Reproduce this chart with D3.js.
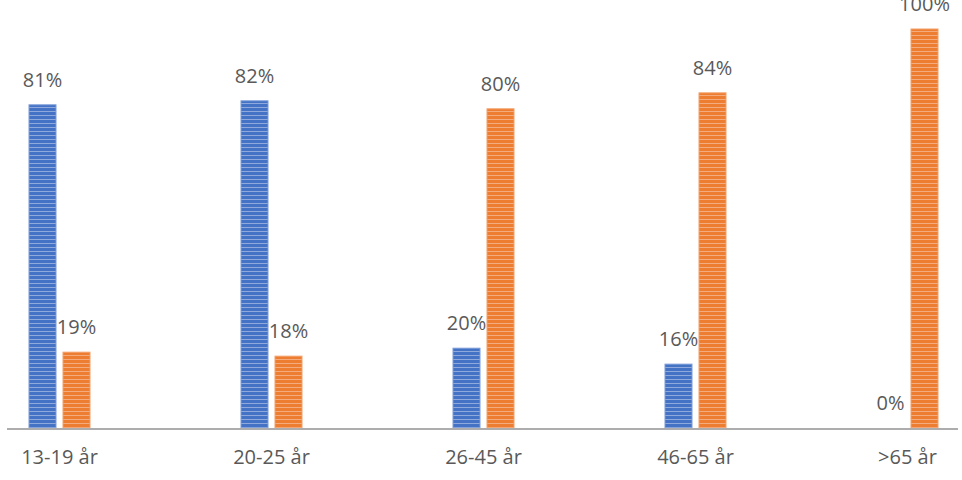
<!DOCTYPE html>
<html>
<head>
<meta charset="utf-8">
<script src="https://cdn.jsdelivr.net/npm/d3@7"></script>
<style>
  html, body { margin: 0; padding: 0; background: #ffffff; }
  svg { display: block; }
  text { font-family: "Open Sans", "Noto Sans", sans-serif; fill: #595959; }
</style>
</head>
<body>
<svg id="chart" width="962" height="480"></svg>
<script>
const categories = ["13-19 år", "20-25 år", "26-45 år", "46-65 år", ">65 år"];
const seriesNames = ["Serie 1", "Serie 2"];
const series1 = [0.81, 0.82, 0.20, 0.16, 0.00];
const series2 = [0.19, 0.18, 0.80, 0.84, 1.00];
const valueLabels1 = ["81%", "82%", "20%", "16%", "0%"];
const valueLabels2 = ["19%", "18%", "80%", "84%", "100%"];

const W = 962, H = 480;
const svg = d3.select("#chart");

const defs = svg.append("defs");
function stripe(id, base, light) {
  const p = defs.append("pattern").attr("id", id).attr("patternUnits", "userSpaceOnUse")
    .attr("width", 8).attr("height", 4);
  p.append("rect").attr("width", 8).attr("height", 4).attr("fill", base);
  p.append("rect").attr("y", 3).attr("width", 8).attr("height", 1).attr("fill", light);
}
stripe("pBlue", "#4472C4", "#8FA9DD");
stripe("pOrange", "#ED7D31", "#F4AB7D");

const x0 = d3.scaleBand().domain(categories).range([-46.5, 1013.5]).padding(0);
const x1 = d3.scaleBand().domain(seriesNames)
  .range([(x0.bandwidth() - 61) / 2, (x0.bandwidth() + 61) / 2])
  .paddingInner(7 / 34).paddingOuter(0);
const y = d3.scaleLinear().domain([0, 1]).range([428, 29]);

const data = categories.map((c, i) => ({
  cat: c,
  vals: [
    { s: seriesNames[0], v: series1[i], lab: valueLabels1[i], fill: "url(#pBlue)", stroke: "#7A9BD8" },
    { s: seriesNames[1], v: series2[i], lab: valueLabels2[i], fill: "url(#pOrange)", stroke: "#F3A06A" }
  ]
}));

const g = svg.append("g");
const groups = g.selectAll("g.cat").data(data).join("g")
  .attr("class", "cat")
  .attr("transform", d => `translate(${x0(d.cat)},0)`);

groups.selectAll("rect").data(d => d.vals.filter(v => v.v > 0)).join("rect")
  .attr("x", d => x1(d.s))
  .attr("width", x1.bandwidth())
  .attr("y", d => y(d.v))
  .attr("height", d => y(0) - y(d.v))
  .attr("fill", d => d.fill)
  .attr("stroke", d => d.stroke)
  .attr("stroke-width", 1);

groups.selectAll("text.val").data(d => d.vals).join("text")
  .attr("class", "val")
  .attr("x", d => x1(d.s) + x1.bandwidth() / 2)
  .attr("y", d => y(d.v) - 18)
  .attr("text-anchor", "middle")
  .attr("font-size", 20)
  .text(d => d.lab);

// axis line
svg.append("line")
  .attr("x1", 7).attr("x2", 958)
  .attr("y1", y(0) + 1).attr("y2", y(0) + 1)
  .attr("stroke", "#ADADAD").attr("stroke-width", 2);

// category labels
const xAxis = d3.axisBottom(x0).tickSize(0).tickPadding(0);
const ax = svg.append("g").attr("transform", `translate(0,${y(0) + 22})`).call(xAxis);
ax.select(".domain").remove();
ax.selectAll("text")
  .attr("font-size", 20)
  .attr("dy", "0.71em")
  .style("font-family", '"Open Sans", "Noto Sans", sans-serif')
  .style("fill", "#595959");
</script>
</body>
</html>
